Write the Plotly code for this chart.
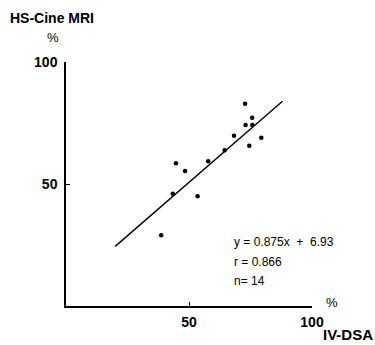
import plotly.graph_objects as go

# Data
iv_dsa = [72.8, 75.7, 73.0, 75.7, 68.3, 79.4, 74.5, 64.5, 57.8, 44.7, 48.4, 43.4, 53.5, 38.7]
hs_cine_mri = [82.9, 77.2, 74.2, 74.2, 69.8, 69.0, 65.7, 63.8, 59.3, 58.5, 55.3, 46.0, 45.0, 29.0]
slope = 0.875
intercept = 6.93
fit_x = [20, 88]
fit_y = [slope * v + intercept for v in fit_x]
tick_vals = [50, 100]
tick_text = ["50", "100"]

FONT = "Liberation Sans, Arial, sans-serif"

fig = go.Figure()
fig.add_trace(go.Scatter(x=fit_x, y=fit_y, mode="lines",
                         line=dict(color="black", width=1.4), showlegend=False,
                         hoverinfo="skip"))
fig.add_trace(go.Scatter(x=iv_dsa, y=hs_cine_mri, mode="markers",
                         marker=dict(color="black", size=4.5), showlegend=False))

axis_common = dict(
    showgrid=False, zeroline=False, showline=True, linecolor="black", linewidth=1.5,
    ticks="inside", ticklen=4, tickwidth=1.3, tickcolor="black",
    tickvals=tick_vals, ticktext=tick_text,
    tickfont=dict(family=FONT, size=14, color="black", weight="bold"),
)
fig.update_xaxes(range=[0, 100], **axis_common, ticklabelstandoff=2)
fig.update_yaxes(range=[0, 100], **axis_common, ticklabelstandoff=4)

L, R, T, B = 66, 312, 62, 306

def px2x(px):
    return (px - L) / (R - L)

def py2y(py):
    return (B - py) / (B - T)

annos = [
    ("HS-Cine MRI", 52, 18, 14, "bold", "center"),
    ("%", 53, 38, 13, "normal", "center"),
    ("%", 332, 302, 13, "normal", "center"),
    ("IV-DSA", 348, 334, 15, "bold", "center"),
    ("y = 0.875x  +  6.93", 232, 242, 12, "normal", "left"),
    ("r = 0.866", 232, 262, 12, "normal", "left"),
    ("n= 14", 232, 281, 12, "normal", "left"),
]
for text, px, py, size, weight, align in annos:
    fig.add_annotation(x=px2x(px), y=py2y(py), xref="paper", yref="paper", text=text,
                       showarrow=False, xanchor=align, yanchor="middle",
                       font=dict(family=FONT, size=size, color="black", weight=weight))

fig.update_layout(
    width=375, height=345,
    margin=dict(l=L, r=375 - R, t=T, b=345 - B),
    paper_bgcolor="white", plot_bgcolor="white",
)
fig.write_html("out.html", config={"displayModeBar": False})

with open("out.html", "r", encoding="utf-8") as f:
    html = f.read()
html = html.replace("<head>", "<head><style>html,body{margin:0;padding:0;overflow:hidden;}</style>", 1)
with open("out.html", "w", encoding="utf-8") as f:
    f.write(html)
